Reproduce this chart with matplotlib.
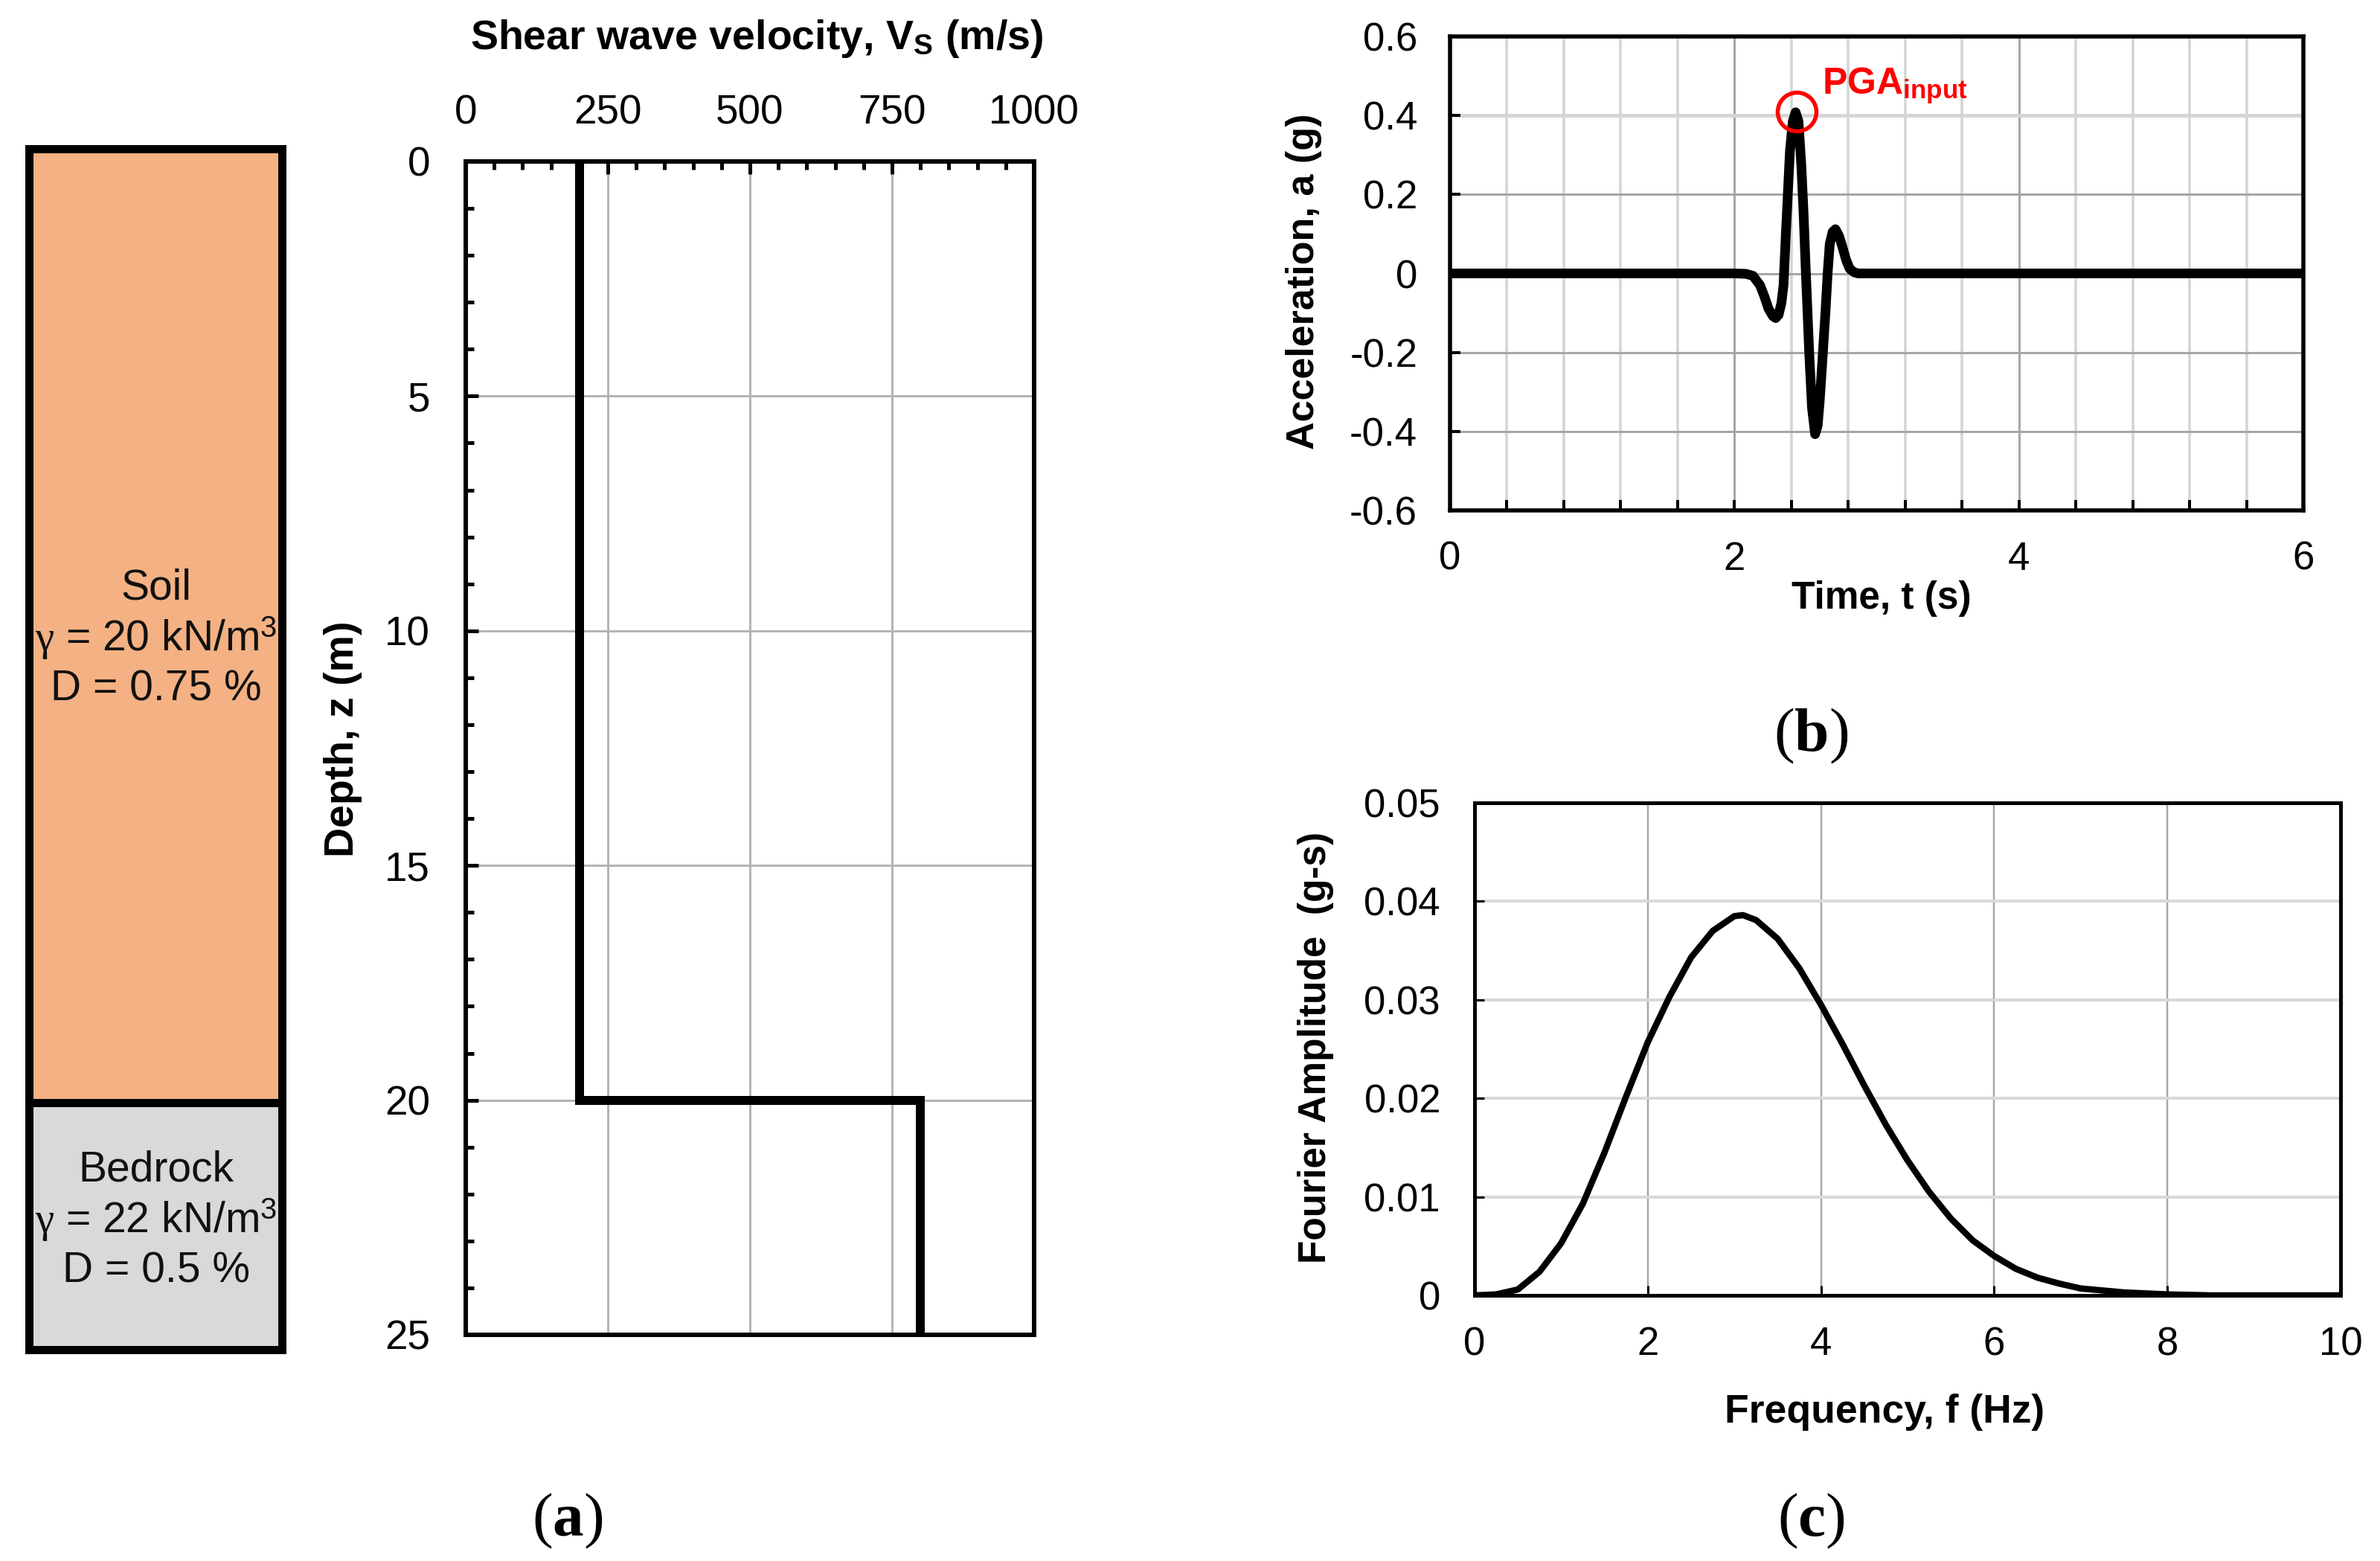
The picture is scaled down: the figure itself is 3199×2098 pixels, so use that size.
import matplotlib
matplotlib.use('Agg')
import matplotlib.pyplot as plt
from matplotlib.patches import Rectangle
from matplotlib.ticker import MultipleLocator

plt.rcParams['font.family'] = ['Liberation Sans', 'DejaVu Sans']
plt.rcParams['mathtext.fontset'] = 'custom'
plt.rcParams['mathtext.rm'] = 'Liberation Serif'
plt.rcParams['mathtext.it'] = 'Liberation Serif'
plt.rcParams['mathtext.bf'] = 'Liberation Serif:bold'
plt.rcParams['mathtext.sf'] = 'Liberation Sans:bold'
plt.rcParams['mathtext.tt'] = 'Liberation Sans'

W, H = 3199, 2098
PT = 0.72  # one pixel in points at dpi 100

# (a) velocity profile
vs_values = [200, 200, 800, 800]
depth_values = [0, 20, 20, 25]
soil_text = ['Soil', r'$\gamma$ = 20 kN/m$^{\mathtt{3}}$', 'D = 0.75 %']
rock_text = ['Bedrock', r'$\gamma$ = 22 kN/m$^{\mathtt{3}}$', 'D = 0.5 %']

# (b) input motion
time_s = [0, 2.0, 2.08, 2.13, 2.18, 2.21, 2.24, 2.27, 2.29, 2.31, 2.33, 2.345, 2.36, 2.375, 2.39, 2.41,
          2.43, 2.45, 2.47, 2.485, 2.5, 2.525, 2.545, 2.567, 2.585, 2.6, 2.62, 2.64, 2.655, 2.67, 2.69,
          2.71, 2.735, 2.76, 2.785, 2.81, 2.84, 2.87, 2.93, 6]
accel_g = [0, 0, -0.001, -0.006, -0.03, -0.058, -0.09, -0.108, -0.113, -0.105, -0.075, -0.03, 0.09, 0.2, 0.31, 0.385,
           0.408, 0.385, 0.275, 0.16, 0.02, -0.197, -0.34, -0.407, -0.385, -0.32, -0.21, -0.096, 0.0, 0.075, 0.105,
           0.112, 0.095, 0.066, 0.034, 0.012, 0.003, 0.0, 0, 0]
pga_time = 2.44
pga_accel = 0.409

# (c) Fourier spectrum
freq_hz = [0, 0.25, 0.5, 0.75, 1, 1.25, 1.5, 1.75, 2, 2.25, 2.5, 2.75, 3, 3.1, 3.25, 3.5, 3.75, 4, 4.25, 4.5,
           4.75, 5, 5.25, 5.5, 5.75, 6, 6.25, 6.5, 6.75, 7, 7.5, 8, 8.5, 9, 10]
fourier_amp = [0, 0.0001, 0.0006, 0.0024, 0.0053, 0.0093, 0.0145, 0.0202, 0.0257, 0.0303, 0.0343, 0.037, 0.0385,
               0.0386, 0.0381, 0.0362, 0.0332, 0.0295, 0.0255, 0.0213, 0.0173, 0.0137, 0.0105, 0.0078, 0.0056,
               0.004, 0.0027, 0.0018, 0.0012, 0.0007, 0.0003, 0.0001, 0, 0, 0]


def add_axes_px(fig, left, top, right, bottom):
    return fig.add_axes([left / W, 1 - bottom / H, (right - left) / W, (bottom - top) / H])


def style_spines(ax, width_px):
    for spine in ax.spines.values():
        spine.set_linewidth(width_px * PT)
        spine.set_zorder(5)


fig = plt.figure(figsize=(W / 100, H / 100), dpi=100, facecolor='white')

# full figure layer in pixel coordinates, used for the soil column and the captions
bg = fig.add_axes([0, 0, 1, 1])
bg.set_xlim(0, W)
bg.set_ylim(H, 0)
bg.axis('off')

bg.add_patch(Rectangle((39.5, 199.5), 340, 1282, fc='#F4B183', ec='black', lw=11 * PT, joinstyle='miter'))
bg.add_patch(Rectangle((39.5, 1481.5), 340, 332, fc='#D9D9D9', ec='black', lw=11 * PT, joinstyle='miter'))
for label, y in zip(soil_text, [791, 858, 926]):
    bg.text(210, y, label, ha='center', va='center', fontsize=41, color='#111111')
for label, y in zip(rock_text, [1573, 1640, 1708]):
    bg.text(210, y, label, ha='center', va='center', fontsize=41, color='#111111')

for label, x, y in [('a', 763, 2044), ('b', 2434, 989), ('c', 2434, 2044)]:
    bg.text(x, y, r'($\mathbf{%s}$)' % label, ha='center', va='center', fontsize=60,
            family='Liberation Serif')

# (a)
ax_a = add_axes_px(fig, 626, 217, 1390, 1794)
ax_a.plot(vs_values, depth_values, color='black', lw=12 * PT, solid_joinstyle='miter', solid_capstyle='butt', zorder=4)
ax_a.set_xlim(0, 1000)
ax_a.set_ylim(25, 0)
ax_a.xaxis.tick_top()
ax_a.xaxis.set_label_position('top')
ax_a.xaxis.set_major_locator(MultipleLocator(250))
ax_a.xaxis.set_minor_locator(MultipleLocator(50))
ax_a.yaxis.set_major_locator(MultipleLocator(5))
ax_a.yaxis.set_minor_locator(MultipleLocator(1))
ax_a.tick_params(which='major', direction='in', length=17 * PT, width=5 * PT, labelsize=39.5)
ax_a.tick_params(axis='x', which='major', pad=38 * PT)
ax_a.tick_params(axis='y', which='major', pad=48 * PT)
ax_a.tick_params(which='minor', direction='in', length=11 * PT, width=5 * PT)
ax_a.grid(which='major', color='#b4b4b4', lw=3 * PT)
ax_a.set_axisbelow(True)
style_spines(ax_a, 6)
ax_a.set_xlabel(r'Shear wave velocity, V$_{\mathsf{S}}$ (m/s)', fontsize=40, fontweight='bold', va='baseline')
ax_a.set_ylabel('Depth, z (m)', fontsize=40, fontweight='bold', va='center')
ax_a.xaxis.set_label_coords(1017, 66, transform=bg.transData)
ax_a.yaxis.set_label_coords(461, 993, transform=bg.transData)

# (b)
ax_b = add_axes_px(fig, 1949, 49, 3096, 686)
ax_b.plot(time_s, accel_g, color='black', lw=13 * PT, solid_joinstyle='round', solid_capstyle='butt', zorder=4)
ax_b.plot([pga_time], [pga_accel], marker='o', ms=52 * PT, mfc='none', mec='#FF0000', mew=5.5 * PT, zorder=6)
ax_b.text(2449, 126, r'$\mathsf{PGA}_{\mathsf{input}}$', color='#FF0000', fontsize=36, ha='left', va='baseline',
          transform=bg.transData, zorder=7)
ax_b.set_xlim(0, 6)
ax_b.set_ylim(-0.6, 0.6)
ax_b.xaxis.set_major_locator(MultipleLocator(2))
ax_b.xaxis.set_minor_locator(MultipleLocator(0.4))
ax_b.set_yticks([-0.6, -0.4, -0.2, 0, 0.2, 0.4, 0.6])
ax_b.set_yticklabels(['-0.6', '-0.4', '-0.2', '0', '0.2', '0.4', '0.6'])
ax_b.tick_params(which='both', direction='in', length=14 * PT, width=4 * PT)
ax_b.tick_params(axis='both', which='major', labelsize=38)
ax_b.tick_params(axis='x', which='major', pad=41 * PT)
ax_b.tick_params(axis='y', which='major', pad=44 * PT)
ax_b.grid(which='major', color='#a6a6a6', lw=3 * PT)
ax_b.grid(which='minor', axis='x', color='#d4d4d4', lw=3.5 * PT)
ax_b.yaxis.get_gridlines()[5].set_color('#d6d6d6')
ax_b.yaxis.get_gridlines()[5].set_linewidth(5 * PT)
ax_b.set_axisbelow(True)
style_spines(ax_b, 5.5)
ax_b.set_xlabel('Time, t (s)', fontsize=37, fontweight='bold', va='baseline')
ax_b.set_ylabel('Acceleration, a (g)', fontsize=37.5, fontweight='bold', va='center')
ax_b.xaxis.set_label_coords(2529, 818, transform=bg.transData)
ax_b.yaxis.set_label_coords(1753, 378, transform=bg.transData)

# (c)
ax_c = add_axes_px(fig, 1982, 1079, 3146, 1741)
ax_c.plot(freq_hz, fourier_amp, color='black', lw=8.5 * PT, solid_joinstyle='round', zorder=4)
ax_c.set_xlim(0, 10)
ax_c.set_ylim(0, 0.05)
ax_c.xaxis.set_major_locator(MultipleLocator(2))
ax_c.set_yticks([0, 0.01, 0.02, 0.03, 0.04, 0.05])
ax_c.set_yticklabels(['0', '0.01', '0.02', '0.03', '0.04', '0.05'])
ax_c.tick_params(which='major', direction='in', length=13 * PT, width=3 * PT, labelsize=38)
ax_c.tick_params(axis='x', pad=41 * PT)
ax_c.tick_params(axis='y', pad=46 * PT)
ax_c.grid(axis='x', color='#a6a6a6', lw=2.5 * PT)
ax_c.grid(axis='y', color='#d9d9d9', lw=4 * PT)
ax_c.set_axisbelow(True)
style_spines(ax_c, 5)
ax_c.set_xlabel('Frequency, f (Hz)', fontsize=38.5, fontweight='bold', va='baseline')
ax_c.set_ylabel('Fourier Amplitude  (g-s)', fontsize=37, fontweight='bold', va='center')
ax_c.xaxis.set_label_coords(2533, 1912, transform=bg.transData)
ax_c.yaxis.set_label_coords(1769, 1408, transform=bg.transData)

fig.savefig('out.png', dpi=100, facecolor='white')
